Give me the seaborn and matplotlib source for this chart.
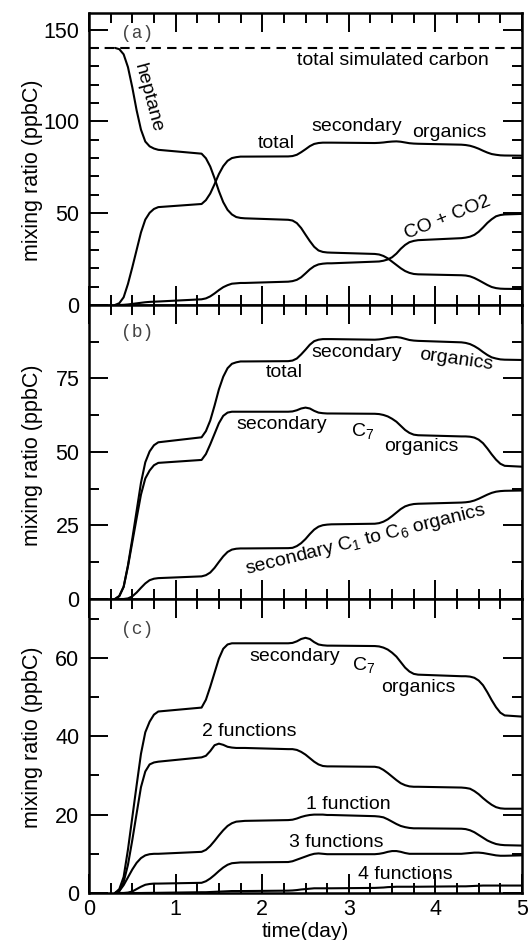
import matplotlib
matplotlib.use("Agg")
import matplotlib.pyplot as plt
import seaborn as sns
from matplotlib.ticker import MultipleLocator

# ---------------- data ----------------
time_day = [0.30, 0.35, 0.40, 0.45, 0.50, 0.55, 0.60, 0.65, 0.70, 0.75, 0.80,
            1.30, 1.35, 1.40, 1.45, 1.50, 1.55, 1.60, 1.65, 1.70, 1.75, 1.80,
            2.30, 2.35, 2.40, 2.45, 2.50, 2.55, 2.60, 2.65, 2.70, 2.75, 2.80,
            3.30, 3.35, 3.40, 3.45, 3.50, 3.55, 3.60, 3.65, 3.70, 3.75, 3.80,
            4.30, 4.35, 4.40, 4.45, 4.50, 4.55, 4.60, 4.65, 4.70, 4.75, 4.80,
            5.00]

heptane = [140, 139.3, 136.5, 129.5, 118.5, 106.0, 95.5, 89.0, 86.4, 85.2, 84.5,
           82.4, 79.9, 75.4, 69.0, 62.0, 56.0, 51.8, 49.3, 47.9, 47.4, 47.2,
           46.4, 46.0, 44.6, 41.9, 38.3, 34.8, 31.7, 29.7, 28.9, 28.6, 28.5,
           27.8, 27.5, 26.7, 25.4, 23.6, 21.8, 20.0, 18.5, 17.5, 16.9, 16.7,
           16.2, 16.05, 15.6, 14.7, 13.5, 12.2, 10.9, 9.8, 9.2, 8.9, 8.8,
           8.7]

total_secondary = [0, 1.0, 4.2, 11.5, 20.5, 30.0, 39.5, 46.5, 50.2, 52.3, 53.3,
                   55.0, 57.1, 60.7, 65.8, 71.3, 75.6, 78.5, 80.0, 80.5, 80.8, 80.8,
                   80.9, 81.1, 81.8, 83.2, 84.8, 86.5, 87.7, 88.2, 88.4, 88.4, 88.4,
                   88.2, 88.3, 88.5, 88.8, 89.0, 89.1, 88.9, 88.5, 88.1, 87.9, 87.8,
                   87.3, 87.1, 86.7, 86.0, 85.1, 84.0, 83.0, 82.2, 81.8, 81.5, 81.4,
                   81.3]

co_co2 = [0, 0.0, 0.1, 0.3, 0.6, 0.9, 1.2, 1.5, 1.7, 1.8, 1.9,
          3.1, 3.6, 4.7, 6.3, 8.1, 9.7, 10.8, 11.6, 11.8, 12.0, 12.0,
          12.7, 13.0, 13.7, 15.1, 17.2, 19.4, 21.1, 22.1, 22.5, 22.7, 22.7,
          23.6, 23.7, 24.1, 24.8, 26.0, 28.0, 30.6, 32.7, 34.2, 34.9, 35.3,
          36.4, 36.7, 37.2, 38.2, 39.9, 42.2, 44.7, 46.7, 48.3, 49.0, 49.3,
          49.6]

carbon_time = [0.0, 5.0]
total_carbon = [140, 140]

secondary_c7 = [0, 1.0, 4.1, 11.1, 19.3, 27.5, 35.5, 41.0, 43.7, 45.5, 46.3,
                47.3, 49.3, 52.6, 56.2, 59.8, 62.3, 63.4, 63.7, 63.7, 63.7, 63.7,
                63.7, 63.8, 64.2, 64.8, 65.1, 64.8, 64.0, 63.4, 63.2, 63.1, 63.1,
                63.0, 62.9, 62.6, 62.1, 61.3, 60.3, 58.9, 57.5, 56.5, 55.9, 55.7,
                55.3, 55.3, 55.2, 54.9, 54.2, 53.0, 51.2, 49.2, 47.4, 46.0, 45.3,
                45.0]

secondary_c1_c6 = [0, 0, 0, 0.2, 0.9, 2.2, 3.8, 5.3, 6.4, 6.9, 7.1,
                   7.7, 8.1, 9.0, 10.6, 12.6, 14.5, 16.0, 16.8, 17.1, 17.2, 17.2,
                   17.3, 17.4, 18.0, 19.0, 20.4, 22.1, 23.6, 24.6, 25.1, 25.3, 25.4,
                   25.6, 25.8, 26.3, 27.1, 28.2, 29.4, 30.6, 31.5, 32.0, 32.3, 32.4,
                   32.8, 32.9, 33.1, 33.5, 34.1, 34.8, 35.5, 36.1, 36.5, 36.7, 36.8,
                   36.9]

two_functions = [0, 0.5, 2.8, 7.2, 13.5, 20.3, 27.0, 31.0, 32.8, 33.3, 33.5,
                 34.6, 35.0, 36.2, 37.7, 38.1, 37.8, 37.3, 37.1, 37.0, 37.0, 37.0,
                 36.7, 36.7, 36.5, 36.0, 35.3, 34.4, 33.5, 32.8, 32.4, 32.3, 32.3,
                 32.2, 32.0, 31.4, 30.6, 29.7, 28.8, 28.0, 27.5, 27.2, 27.1, 27.1,
                 26.9, 26.8, 26.6, 26.0, 25.2, 24.2, 23.3, 22.5, 21.9, 21.6, 21.5,
                 21.5]

one_function = [0, 0.5, 2.0, 4.0, 6.0, 7.7, 8.9, 9.6, 9.9, 10.0, 10.0,
                10.5, 11.0, 12.0, 13.3, 14.7, 16.0, 17.1, 17.8, 18.2, 18.3, 18.4,
                18.6, 18.7, 19.0, 19.4, 19.7, 19.9, 20.0, 20.0, 20.0, 19.9, 19.9,
                19.6, 19.5, 19.3, 18.8, 18.2, 17.6, 17.1, 16.8, 16.6, 16.5, 16.5,
                16.4, 16.3, 16.0, 15.5, 14.8, 14.1, 13.4, 12.9, 12.5, 12.3, 12.2,
                12.1]

three_functions = [0, 0, 0, 0.1, 0.4, 1.0, 1.6, 2.1, 2.3, 2.4, 2.4,
                   2.6, 3.0, 3.7, 4.6, 5.6, 6.5, 7.2, 7.6, 7.7, 7.8, 7.8,
                   7.9, 8.1, 8.5, 8.9, 9.3, 9.7, 10.0, 10.1, 10.0, 9.9, 9.9,
                   9.9, 10.0, 10.2, 10.5, 10.7, 10.7, 10.5, 10.2, 10.0, 10.0, 10.0,
                   10.0, 10.1, 10.2, 10.3, 10.3, 10.2, 10.0, 9.8, 9.6, 9.5, 9.5,
                   9.6]

four_functions = [0, 0, 0, 0, 0, 0, 0, 0.02, 0.03, 0.04, 0.05,
                  0.2, 0.2, 0.25, 0.3, 0.35, 0.4, 0.45, 0.5, 0.5, 0.5, 0.5,
                  0.6, 0.65, 0.75, 0.9, 1.0, 1.1, 1.2, 1.2, 1.2, 1.2, 1.2,
                  1.3, 1.35, 1.4, 1.5, 1.55, 1.6, 1.6, 1.6, 1.6, 1.6, 1.6,
                  1.7, 1.7, 1.75, 1.8, 1.85, 1.9, 1.9, 1.9, 1.9, 1.9, 1.9,
                  1.9]

x_ticks = [0, 1, 2, 3, 4, 5]
y_label = "mixing ratio (ppbC)"
x_label = "time(day)"

# ---------------- style ----------------
sns.set_style("ticks")
plt.rcParams["font.family"] = ["Liberation Sans", "DejaVu Sans"]
plt.rcParams["mathtext.fontset"] = "custom"
plt.rcParams["mathtext.rm"] = "Liberation Sans"
plt.rcParams["mathtext.it"] = "Liberation Sans:italic"
plt.rcParams["axes.edgecolor"] = "black"
plt.rcParams["text.color"] = "black"
plt.rcParams["axes.labelcolor"] = "black"
plt.rcParams["xtick.color"] = "black"
plt.rcParams["ytick.color"] = "black"

TICK_FS = 15.5
LAB_FS = 15.5
ANN_FS = 14
LW = 1.5

fig = plt.figure(figsize=(5.3, 9.4), dpi=100)
gs = fig.add_gridspec(3, 1, left=89 / 530, right=522 / 530,
                      top=1 - 13 / 940, bottom=1 - 893 / 940,
                      hspace=0, height_ratios=[292, 294, 294])
axes = [fig.add_subplot(gs[i]) for i in range(3)]


def line(ax, x, y, **kw):
    sns.lineplot(x=x, y=y, ax=ax, color="black", linewidth=LW,
                 estimator=None, sort=False, **kw)


def style_axis(ax, ymax, ymajor, yminor, ylab_y):
    ax.set_xlim(0, 5)
    ax.set_ylim(0, ymax)
    ax.xaxis.set_major_locator(MultipleLocator(1))
    ax.xaxis.set_minor_locator(MultipleLocator(0.25))
    ax.yaxis.set_major_locator(MultipleLocator(ymajor))
    ax.yaxis.set_minor_locator(MultipleLocator(yminor))
    ax.tick_params(which="both", direction="in", top=True, right=True,
                   colors="black", labelsize=TICK_FS)
    ax.tick_params(which="major", length=14, width=1.4)
    ax.tick_params(which="minor", length=7, width=1.4)
    ax.tick_params(axis="y", pad=7)
    ax.tick_params(axis="x", pad=4)
    for s in ax.spines.values():
        s.set_linewidth(1.8)
        s.set_color("black")
    ax.set_ylabel(y_label, fontsize=LAB_FS, color="black")
    ax.yaxis.set_label_coords(-0.106, ylab_y)
    ax.set_xlabel("")


def note(ax, x, y, s, **kw):
    ax.text(x, y, s, fontsize=ANN_FS, ha="center", va="center", color="black", **kw)


def panel_tag(ax, y, s):
    ax.text(0.37, y, s, family=["Liberation Mono", "DejaVu Sans Mono"],
            fontsize=13, color="#444444", ha="left", va="center")


# ---------------- panel (a) ----------------
ax = axes[0]
sns.lineplot(x=carbon_time, y=total_carbon, ax=ax, color="black",
             linewidth=LW, estimator=None, linestyle=(0, (4.5, 3)))
line(ax, time_day, heptane)
line(ax, time_day, total_secondary)
line(ax, time_day, co_co2)
style_axis(ax, 159, 50, 10, 0.462)
ax.set_xticks(x_ticks)
ax.set_xticklabels([])
panel_tag(ax, 148, "(a)")
note(ax, 3.51, 133, "total simulated carbon")
note(ax, 0.68, 113, "heptane", rotation=-75)
note(ax, 2.16, 88, "total")
note(ax, 3.09, 97, "secondary")
note(ax, 4.16, 94, "organics")
note(ax, 4.14, 47.5, "CO + CO2", rotation=22)

# ---------------- panel (b) ----------------
ax = axes[1]
line(ax, time_day, total_secondary)
line(ax, time_day, secondary_c7)
line(ax, time_day, secondary_c1_c6)
style_axis(ax, 100, 25, 12.5, 0.49)
ax.set_xticks(x_ticks)
ax.set_xticklabels([])
ax.set_yticks([0, 25, 50, 75, 100])
ax.set_yticklabels(["0", "25", "50", "75", ""])
panel_tag(ax, 90.7, "(b)")
note(ax, 2.25, 77, "total")
note(ax, 3.09, 83.8, "secondary")
note(ax, 4.24, 81.5, "organics", rotation=-8)
note(ax, 2.23, 59.3, "secondary")
note(ax, 3.16, 57, r"C$_\mathregular{7}$")
note(ax, 3.84, 52, "organics")
note(ax, 3.19, 20.1, r"secondary C$_\mathregular{1}$ to C$_\mathregular{6}$ organics",
     rotation=14)

# ---------------- panel (c) ----------------
ax = axes[2]
line(ax, time_day, secondary_c7)
line(ax, time_day, two_functions)
line(ax, time_day, one_function)
line(ax, time_day, three_functions)
line(ax, time_day, four_functions)
style_axis(ax, 75, 20, 10, 0.53)
ax.set_xticks(x_ticks)
ax.set_xticklabels([str(v) for v in x_ticks])
ax.set_xlabel(x_label, fontsize=15, color="black")
ax.xaxis.set_label_coords(0.5, -0.1)
panel_tag(ax, 67.3, "(c)")
note(ax, 2.38, 60.3, "secondary")
note(ax, 3.17, 58.1, r"C$_\mathregular{7}$")
note(ax, 3.80, 52.4, "organics")
note(ax, 1.85, 41.1, "2 functions")
note(ax, 3.00, 22.6, "1 function")
note(ax, 2.86, 13.0, "3 functions")
note(ax, 3.65, 4.8, "4 functions")

for a in axes:
    a.set_facecolor("white")
fig.patch.set_facecolor("white")
fig.savefig("out.png", dpi=100)
